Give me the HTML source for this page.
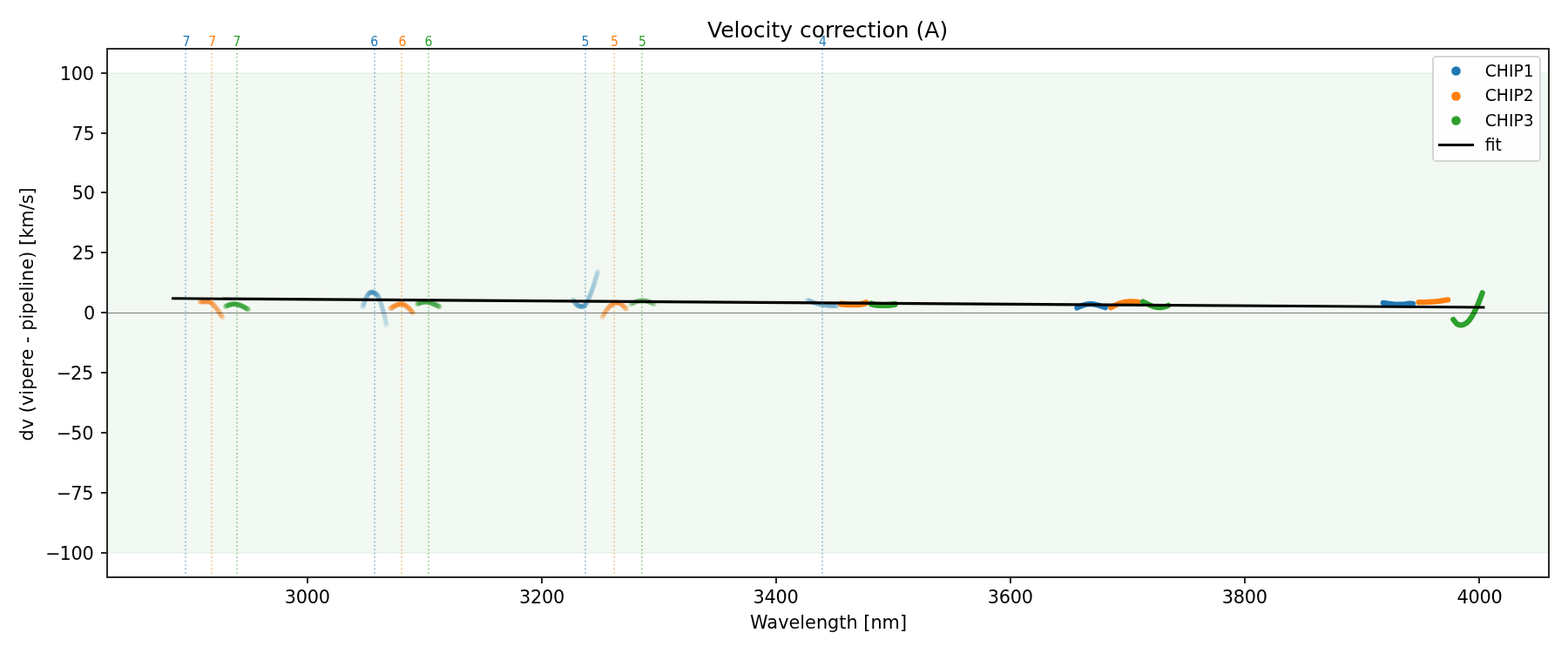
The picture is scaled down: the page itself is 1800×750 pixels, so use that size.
<!DOCTYPE html>
<html lang="en">
<head>
<meta charset="utf-8">
<title>Velocity correction (A)</title>
<style>
html,body{margin:0;padding:0;background:#fff;}
body{width:1800px;height:750px;overflow:hidden;}
svg{display:block;}
svg text{font-family:"DejaVu Sans","Liberation Sans",sans-serif;}
</style>
</head>
<body>
<svg width="1800" height="750" viewBox="0 0 1800 750">
<rect x="0" y="0" width="1800" height="750" fill="#ffffff"/>
<rect x="123" y="83" width="1655" height="553" fill="#f2f8f2"/>
<rect x="123" y="84" width="1655" height="1" fill="#e5f1e5"/>
<rect x="123" y="634" width="1655" height="1" fill="#e5f1e5"/>
<rect x="123" y="82" width="1655" height="1" fill="#fefefe"/>
<rect x="123" y="636" width="1655" height="1" fill="#fefefe"/>
<g fill="#ff7f0e" fill-opacity="0.075">
<circle cx="229.2" cy="346.4" r="3.0"/><circle cx="229.5" cy="346.4" r="3.0"/><circle cx="229.8" cy="346.4" r="3.0"/><circle cx="230.1" cy="346.4" r="3.0"/><circle cx="230.4" cy="346.5" r="3.0"/><circle cx="230.7" cy="346.5" r="3.0"/><circle cx="231.0" cy="346.5" r="3.0"/><circle cx="231.3" cy="346.5" r="3.0"/><circle cx="231.6" cy="346.5" r="3.0"/><circle cx="231.9" cy="346.5" r="3.0"/><circle cx="232.2" cy="346.5" r="3.0"/><circle cx="232.5" cy="346.5" r="3.0"/><circle cx="232.8" cy="346.5" r="3.0"/><circle cx="233.1" cy="346.5" r="3.0"/><circle cx="233.4" cy="346.5" r="3.0"/><circle cx="233.6" cy="346.5" r="3.0"/><circle cx="233.9" cy="346.5" r="3.0"/><circle cx="234.2" cy="346.5" r="3.0"/><circle cx="234.5" cy="346.5" r="3.0"/><circle cx="234.8" cy="346.5" r="3.0"/><circle cx="235.1" cy="346.5" r="3.0"/><circle cx="235.4" cy="346.5" r="3.0"/><circle cx="235.7" cy="346.5" r="3.0"/><circle cx="236.0" cy="346.5" r="3.0"/><circle cx="236.3" cy="346.5" r="3.0"/><circle cx="236.6" cy="346.5" r="3.0"/><circle cx="236.9" cy="346.5" r="3.0"/><circle cx="237.2" cy="346.4" r="3.0"/><circle cx="237.5" cy="346.4" r="3.0"/><circle cx="237.8" cy="346.4" r="3.0"/><circle cx="238.1" cy="346.4" r="3.0"/><circle cx="238.4" cy="346.4" r="3.0"/><circle cx="238.7" cy="346.4" r="3.0"/><circle cx="239.0" cy="346.4" r="3.0"/><circle cx="239.3" cy="346.5" r="3.0"/><circle cx="239.6" cy="346.5" r="3.0"/><circle cx="239.9" cy="346.6" r="3.0"/><circle cx="240.2" cy="346.6" r="3.0"/><circle cx="240.5" cy="346.7" r="3.0"/><circle cx="240.8" cy="346.8" r="3.0"/><circle cx="241.1" cy="346.9" r="3.0"/><circle cx="241.4" cy="347.1" r="3.0"/><circle cx="241.7" cy="347.2" r="3.0"/><circle cx="242.0" cy="347.4" r="3.0"/><circle cx="242.3" cy="347.6" r="3.0"/><circle cx="242.5" cy="347.8" r="3.0"/><circle cx="242.8" cy="348.0" r="3.0"/><circle cx="243.1" cy="348.3" r="3.0"/><circle cx="243.4" cy="348.5" r="3.0"/><circle cx="243.7" cy="348.8" r="3.0"/><circle cx="244.0" cy="349.1" r="3.0"/><circle cx="244.3" cy="349.4" r="3.0"/><circle cx="244.6" cy="349.7" r="3.0"/><circle cx="244.9" cy="350.0" r="3.0"/><circle cx="245.2" cy="350.3" r="3.0"/><circle cx="245.5" cy="350.6" r="3.0"/><circle cx="245.8" cy="351.0" r="3.0"/><circle cx="246.1" cy="351.3" r="3.0"/><circle cx="246.4" cy="351.7" r="3.0"/><circle cx="246.7" cy="352.0" r="3.0"/><circle cx="247.0" cy="352.4" r="3.0"/><circle cx="247.3" cy="352.8" r="3.0"/><circle cx="247.6" cy="353.2" r="3.0"/><circle cx="247.9" cy="353.6" r="3.0"/><circle cx="248.2" cy="354.0" r="3.0"/><circle cx="248.5" cy="354.3" r="3.0"/><circle cx="248.8" cy="354.7" r="3.0"/><circle cx="249.1" cy="355.2" r="3.0"/><circle cx="249.4" cy="355.6" r="3.0"/><circle cx="249.7" cy="356.0" r="3.0"/><circle cx="250.0" cy="356.4" r="3.0"/><circle cx="250.3" cy="356.8" r="3.0"/><circle cx="250.6" cy="357.2" r="3.0"/><circle cx="250.9" cy="357.7" r="3.0"/><circle cx="251.2" cy="358.1" r="3.0"/><circle cx="251.4" cy="358.5" r="3.0"/><circle cx="251.7" cy="359.0" r="3.0"/><circle cx="252.0" cy="359.4" r="3.0"/><circle cx="252.3" cy="359.9" r="3.0"/><circle cx="252.6" cy="360.3" r="3.0"/><circle cx="252.9" cy="360.7" r="3.0"/><circle cx="253.2" cy="361.2" r="3.0"/><circle cx="253.5" cy="361.6" r="3.0"/><circle cx="253.8" cy="362.1" r="3.0"/><circle cx="254.1" cy="362.5" r="3.0"/><circle cx="254.4" cy="363.0" r="3.0"/><circle cx="254.7" cy="363.4" r="3.0"/><circle cx="255.0" cy="363.9" r="3.0"/><circle cx="255.3" cy="364.3" r="3.0"/><circle cx="255.6" cy="364.8" r="3.0"/>
</g>
<g fill="#2ca02c" fill-opacity="0.1">
<circle cx="258.8" cy="352.0" r="3.0"/><circle cx="259.1" cy="351.9" r="3.0"/><circle cx="259.4" cy="351.7" r="3.0"/><circle cx="259.7" cy="351.6" r="3.0"/><circle cx="260.0" cy="351.5" r="3.0"/><circle cx="260.3" cy="351.3" r="3.0"/><circle cx="260.6" cy="351.2" r="3.0"/><circle cx="260.9" cy="351.1" r="3.0"/><circle cx="261.2" cy="350.9" r="3.0"/><circle cx="261.5" cy="350.8" r="3.0"/><circle cx="261.8" cy="350.7" r="3.0"/><circle cx="262.1" cy="350.6" r="3.0"/><circle cx="262.4" cy="350.5" r="3.0"/><circle cx="262.7" cy="350.4" r="3.0"/><circle cx="263.0" cy="350.2" r="3.0"/><circle cx="263.2" cy="350.1" r="3.0"/><circle cx="263.5" cy="350.0" r="3.0"/><circle cx="263.8" cy="349.9" r="3.0"/><circle cx="264.1" cy="349.9" r="3.0"/><circle cx="264.4" cy="349.8" r="3.0"/><circle cx="264.7" cy="349.7" r="3.0"/><circle cx="265.0" cy="349.6" r="3.0"/><circle cx="265.3" cy="349.5" r="3.0"/><circle cx="265.6" cy="349.5" r="3.0"/><circle cx="265.9" cy="349.4" r="3.0"/><circle cx="266.2" cy="349.4" r="3.0"/><circle cx="266.5" cy="349.3" r="3.0"/><circle cx="266.8" cy="349.3" r="3.0"/><circle cx="267.1" cy="349.2" r="3.0"/><circle cx="267.4" cy="349.2" r="3.0"/><circle cx="267.7" cy="349.2" r="3.0"/><circle cx="268.0" cy="349.2" r="3.0"/><circle cx="268.3" cy="349.2" r="3.0"/><circle cx="268.6" cy="349.2" r="3.0"/><circle cx="268.9" cy="349.2" r="3.0"/><circle cx="269.2" cy="349.2" r="3.0"/><circle cx="269.5" cy="349.2" r="3.0"/><circle cx="269.8" cy="349.2" r="3.0"/><circle cx="270.1" cy="349.2" r="3.0"/><circle cx="270.4" cy="349.2" r="3.0"/><circle cx="270.7" cy="349.3" r="3.0"/><circle cx="271.0" cy="349.3" r="3.0"/><circle cx="271.3" cy="349.4" r="3.0"/><circle cx="271.6" cy="349.4" r="3.0"/><circle cx="271.9" cy="349.5" r="3.0"/><circle cx="272.1" cy="349.5" r="3.0"/><circle cx="272.4" cy="349.6" r="3.0"/><circle cx="272.7" cy="349.7" r="3.0"/><circle cx="273.0" cy="349.8" r="3.0"/><circle cx="273.3" cy="349.8" r="3.0"/><circle cx="273.6" cy="349.9" r="3.0"/><circle cx="273.9" cy="350.0" r="3.0"/><circle cx="274.2" cy="350.1" r="3.0"/><circle cx="274.5" cy="350.2" r="3.0"/><circle cx="274.8" cy="350.3" r="3.0"/><circle cx="275.1" cy="350.4" r="3.0"/><circle cx="275.4" cy="350.5" r="3.0"/><circle cx="275.7" cy="350.7" r="3.0"/><circle cx="276.0" cy="350.8" r="3.0"/><circle cx="276.3" cy="350.9" r="3.0"/><circle cx="276.6" cy="351.0" r="3.0"/><circle cx="276.9" cy="351.2" r="3.0"/><circle cx="277.2" cy="351.3" r="3.0"/><circle cx="277.5" cy="351.4" r="3.0"/><circle cx="277.8" cy="351.6" r="3.0"/><circle cx="278.1" cy="351.7" r="3.0"/><circle cx="278.4" cy="351.8" r="3.0"/><circle cx="278.7" cy="352.0" r="3.0"/><circle cx="279.0" cy="352.1" r="3.0"/><circle cx="279.3" cy="352.3" r="3.0"/><circle cx="279.6" cy="352.4" r="3.0"/><circle cx="279.9" cy="352.6" r="3.0"/><circle cx="280.2" cy="352.8" r="3.0"/><circle cx="280.5" cy="352.9" r="3.0"/><circle cx="280.8" cy="353.1" r="3.0"/><circle cx="281.0" cy="353.2" r="3.0"/><circle cx="281.3" cy="353.4" r="3.0"/><circle cx="281.6" cy="353.6" r="3.0"/><circle cx="281.9" cy="353.7" r="3.0"/><circle cx="282.2" cy="353.9" r="3.0"/><circle cx="282.5" cy="354.1" r="3.0"/><circle cx="282.8" cy="354.2" r="3.0"/><circle cx="283.1" cy="354.4" r="3.0"/><circle cx="283.4" cy="354.6" r="3.0"/><circle cx="283.7" cy="354.7" r="3.0"/><circle cx="284.0" cy="354.9" r="3.0"/><circle cx="284.3" cy="355.1" r="3.0"/><circle cx="284.6" cy="355.3" r="3.0"/><circle cx="284.9" cy="355.4" r="3.0"/><circle cx="285.2" cy="355.6" r="3.0"/>
</g>
<g fill="#1f77b4" fill-opacity="0.075">
<circle cx="416.4" cy="352.8" r="3.0"/><circle cx="416.7" cy="351.9" r="3.0"/><circle cx="417.0" cy="351.0" r="3.0"/><circle cx="417.3" cy="350.1" r="3.0"/><circle cx="417.6" cy="349.2" r="3.0"/><circle cx="417.9" cy="348.3" r="3.0"/><circle cx="418.2" cy="347.4" r="3.0"/><circle cx="418.5" cy="346.6" r="3.0"/><circle cx="418.8" cy="345.7" r="3.0"/><circle cx="419.2" cy="344.9" r="3.0"/><circle cx="419.5" cy="344.2" r="3.0"/><circle cx="419.8" cy="343.4" r="3.0"/><circle cx="420.1" cy="342.7" r="3.0"/><circle cx="420.4" cy="342.0" r="3.0"/><circle cx="420.7" cy="341.4" r="3.0"/><circle cx="421.0" cy="340.8" r="3.0"/><circle cx="421.3" cy="340.2" r="3.0"/><circle cx="421.6" cy="339.7" r="3.0"/><circle cx="421.9" cy="339.1" r="3.0"/><circle cx="422.2" cy="338.7" r="3.0"/><circle cx="422.5" cy="338.2" r="3.0"/><circle cx="422.8" cy="337.9" r="3.0"/><circle cx="423.1" cy="337.5" r="3.0"/><circle cx="423.4" cy="337.2" r="3.0"/><circle cx="423.7" cy="336.9" r="3.0"/><circle cx="424.0" cy="336.6" r="3.0"/><circle cx="424.3" cy="336.4" r="3.0"/><circle cx="424.7" cy="336.2" r="3.0"/><circle cx="425.0" cy="336.0" r="3.0"/><circle cx="425.3" cy="335.9" r="3.0"/><circle cx="425.6" cy="335.8" r="3.0"/><circle cx="425.9" cy="335.7" r="3.0"/><circle cx="426.2" cy="335.6" r="3.0"/><circle cx="426.5" cy="335.6" r="3.0"/><circle cx="426.8" cy="335.6" r="3.0"/><circle cx="427.1" cy="335.6" r="3.0"/><circle cx="427.4" cy="335.6" r="3.0"/><circle cx="427.7" cy="335.7" r="3.0"/><circle cx="428.0" cy="335.7" r="3.0"/><circle cx="428.3" cy="335.8" r="3.0"/><circle cx="428.6" cy="335.9" r="3.0"/><circle cx="428.9" cy="336.0" r="3.0"/><circle cx="429.2" cy="336.1" r="3.0"/><circle cx="429.5" cy="336.3" r="3.0"/><circle cx="429.8" cy="336.4" r="3.0"/><circle cx="430.2" cy="336.6" r="3.0"/><circle cx="430.5" cy="336.8" r="3.0"/><circle cx="430.8" cy="337.0" r="3.0"/><circle cx="431.1" cy="337.2" r="3.0"/><circle cx="431.4" cy="337.4" r="3.0"/><circle cx="431.7" cy="337.6" r="3.0"/><circle cx="432.0" cy="337.9" r="3.0"/><circle cx="432.3" cy="338.1" r="3.0"/><circle cx="432.6" cy="338.4" r="3.0"/><circle cx="432.9" cy="338.7" r="3.0"/><circle cx="433.2" cy="339.1" r="3.0"/><circle cx="433.5" cy="339.4" r="3.0"/><circle cx="433.8" cy="339.8" r="3.0"/><circle cx="434.1" cy="340.3" r="3.0"/><circle cx="434.4" cy="340.8" r="3.0"/><circle cx="434.7" cy="341.4" r="3.0"/><circle cx="435.0" cy="342.0" r="3.0"/><circle cx="435.3" cy="342.8" r="3.0"/><circle cx="435.7" cy="343.5" r="3.0"/><circle cx="436.0" cy="344.4" r="3.0"/><circle cx="436.3" cy="345.2" r="3.0"/><circle cx="436.6" cy="346.1" r="3.0"/><circle cx="436.9" cy="347.1" r="3.0"/><circle cx="437.2" cy="348.1" r="3.0"/><circle cx="437.5" cy="349.1" r="3.0"/><circle cx="437.8" cy="350.0" r="3.0"/><circle cx="438.1" cy="351.0" r="3.0"/><circle cx="438.4" cy="352.0" r="3.0"/><circle cx="438.7" cy="353.0" r="3.0"/><circle cx="439.0" cy="353.9" r="3.0"/><circle cx="439.3" cy="354.9" r="3.0"/><circle cx="439.6" cy="355.9" r="3.0"/><circle cx="439.9" cy="356.8" r="3.0"/><circle cx="440.2" cy="357.9" r="3.0"/><circle cx="440.5" cy="359.0" r="3.0"/><circle cx="440.8" cy="360.1" r="3.0"/><circle cx="441.2" cy="361.3" r="3.0"/><circle cx="441.5" cy="362.6" r="3.0"/><circle cx="441.8" cy="364.0" r="3.0"/><circle cx="442.1" cy="365.4" r="3.0"/><circle cx="442.4" cy="367.0" r="3.0"/><circle cx="442.7" cy="368.6" r="3.0"/><circle cx="443.0" cy="370.2" r="3.0"/><circle cx="443.3" cy="371.9" r="3.0"/><circle cx="443.6" cy="373.6" r="3.0"/>
</g>
<g fill="#ff7f0e" fill-opacity="0.09">
<circle cx="448.0" cy="354.4" r="3.0"/><circle cx="448.3" cy="354.2" r="3.0"/><circle cx="448.6" cy="354.0" r="3.0"/><circle cx="448.9" cy="353.9" r="3.0"/><circle cx="449.2" cy="353.7" r="3.0"/><circle cx="449.5" cy="353.5" r="3.0"/><circle cx="449.8" cy="353.3" r="3.0"/><circle cx="450.1" cy="353.2" r="3.0"/><circle cx="450.4" cy="353.0" r="3.0"/><circle cx="450.7" cy="352.8" r="3.0"/><circle cx="451.0" cy="352.6" r="3.0"/><circle cx="451.3" cy="352.5" r="3.0"/><circle cx="451.6" cy="352.3" r="3.0"/><circle cx="451.9" cy="352.1" r="3.0"/><circle cx="452.2" cy="352.0" r="3.0"/><circle cx="452.4" cy="351.8" r="3.0"/><circle cx="452.7" cy="351.6" r="3.0"/><circle cx="453.0" cy="351.5" r="3.0"/><circle cx="453.3" cy="351.3" r="3.0"/><circle cx="453.6" cy="351.2" r="3.0"/><circle cx="453.9" cy="351.0" r="3.0"/><circle cx="454.2" cy="350.9" r="3.0"/><circle cx="454.5" cy="350.7" r="3.0"/><circle cx="454.8" cy="350.6" r="3.0"/><circle cx="455.1" cy="350.5" r="3.0"/><circle cx="455.4" cy="350.3" r="3.0"/><circle cx="455.7" cy="350.2" r="3.0"/><circle cx="456.0" cy="350.1" r="3.0"/><circle cx="456.3" cy="350.0" r="3.0"/><circle cx="456.6" cy="349.9" r="3.0"/><circle cx="456.9" cy="349.8" r="3.0"/><circle cx="457.2" cy="349.7" r="3.0"/><circle cx="457.5" cy="349.6" r="3.0"/><circle cx="457.8" cy="349.5" r="3.0"/><circle cx="458.1" cy="349.4" r="3.0"/><circle cx="458.4" cy="349.4" r="3.0"/><circle cx="458.7" cy="349.3" r="3.0"/><circle cx="459.0" cy="349.3" r="3.0"/><circle cx="459.3" cy="349.2" r="3.0"/><circle cx="459.6" cy="349.2" r="3.0"/><circle cx="459.9" cy="349.2" r="3.0"/><circle cx="460.2" cy="349.2" r="3.0"/><circle cx="460.5" cy="349.2" r="3.0"/><circle cx="460.8" cy="349.2" r="3.0"/><circle cx="461.1" cy="349.2" r="3.0"/><circle cx="461.3" cy="349.3" r="3.0"/><circle cx="461.6" cy="349.3" r="3.0"/><circle cx="461.9" cy="349.4" r="3.0"/><circle cx="462.2" cy="349.4" r="3.0"/><circle cx="462.5" cy="349.5" r="3.0"/><circle cx="462.8" cy="349.6" r="3.0"/><circle cx="463.1" cy="349.7" r="3.0"/><circle cx="463.4" cy="349.8" r="3.0"/><circle cx="463.7" cy="350.0" r="3.0"/><circle cx="464.0" cy="350.1" r="3.0"/><circle cx="464.3" cy="350.2" r="3.0"/><circle cx="464.6" cy="350.4" r="3.0"/><circle cx="464.9" cy="350.6" r="3.0"/><circle cx="465.2" cy="350.7" r="3.0"/><circle cx="465.5" cy="350.9" r="3.0"/><circle cx="465.8" cy="351.1" r="3.0"/><circle cx="466.1" cy="351.3" r="3.0"/><circle cx="466.4" cy="351.5" r="3.0"/><circle cx="466.7" cy="351.7" r="3.0"/><circle cx="467.0" cy="352.0" r="3.0"/><circle cx="467.3" cy="352.2" r="3.0"/><circle cx="467.6" cy="352.4" r="3.0"/><circle cx="467.9" cy="352.7" r="3.0"/><circle cx="468.2" cy="353.0" r="3.0"/><circle cx="468.5" cy="353.2" r="3.0"/><circle cx="468.8" cy="353.5" r="3.0"/><circle cx="469.1" cy="353.8" r="3.0"/><circle cx="469.4" cy="354.1" r="3.0"/><circle cx="469.7" cy="354.4" r="3.0"/><circle cx="470.0" cy="354.7" r="3.0"/><circle cx="470.2" cy="355.0" r="3.0"/><circle cx="470.5" cy="355.3" r="3.0"/><circle cx="470.8" cy="355.6" r="3.0"/><circle cx="471.1" cy="355.9" r="3.0"/><circle cx="471.4" cy="356.2" r="3.0"/><circle cx="471.7" cy="356.6" r="3.0"/><circle cx="472.0" cy="356.9" r="3.0"/><circle cx="472.3" cy="357.2" r="3.0"/><circle cx="472.6" cy="357.6" r="3.0"/><circle cx="472.9" cy="357.9" r="3.0"/><circle cx="473.2" cy="358.2" r="3.0"/><circle cx="473.5" cy="358.6" r="3.0"/><circle cx="473.8" cy="358.9" r="3.0"/><circle cx="474.1" cy="359.3" r="3.0"/><circle cx="474.4" cy="359.6" r="3.0"/>
</g>
<g fill="#2ca02c" fill-opacity="0.09">
<circle cx="478.8" cy="349.2" r="3.0"/><circle cx="479.1" cy="349.1" r="3.0"/><circle cx="479.4" cy="349.0" r="3.0"/><circle cx="479.7" cy="348.9" r="3.0"/><circle cx="480.0" cy="348.8" r="3.0"/><circle cx="480.3" cy="348.7" r="3.0"/><circle cx="480.6" cy="348.6" r="3.0"/><circle cx="480.8" cy="348.4" r="3.0"/><circle cx="481.1" cy="348.3" r="3.0"/><circle cx="481.4" cy="348.2" r="3.0"/><circle cx="481.7" cy="348.1" r="3.0"/><circle cx="482.0" cy="348.0" r="3.0"/><circle cx="482.3" cy="347.9" r="3.0"/><circle cx="482.6" cy="347.9" r="3.0"/><circle cx="482.9" cy="347.8" r="3.0"/><circle cx="483.2" cy="347.7" r="3.0"/><circle cx="483.5" cy="347.6" r="3.0"/><circle cx="483.8" cy="347.5" r="3.0"/><circle cx="484.1" cy="347.4" r="3.0"/><circle cx="484.4" cy="347.4" r="3.0"/><circle cx="484.6" cy="347.3" r="3.0"/><circle cx="484.9" cy="347.2" r="3.0"/><circle cx="485.2" cy="347.2" r="3.0"/><circle cx="485.5" cy="347.1" r="3.0"/><circle cx="485.8" cy="347.0" r="3.0"/><circle cx="486.1" cy="347.0" r="3.0"/><circle cx="486.4" cy="346.9" r="3.0"/><circle cx="486.7" cy="346.9" r="3.0"/><circle cx="487.0" cy="346.9" r="3.0"/><circle cx="487.3" cy="346.8" r="3.0"/><circle cx="487.6" cy="346.8" r="3.0"/><circle cx="487.9" cy="346.8" r="3.0"/><circle cx="488.1" cy="346.8" r="3.0"/><circle cx="488.4" cy="346.8" r="3.0"/><circle cx="488.7" cy="346.8" r="3.0"/><circle cx="489.0" cy="346.8" r="3.0"/><circle cx="489.3" cy="346.8" r="3.0"/><circle cx="489.6" cy="346.8" r="3.0"/><circle cx="489.9" cy="346.9" r="3.0"/><circle cx="490.2" cy="346.9" r="3.0"/><circle cx="490.5" cy="346.9" r="3.0"/><circle cx="490.8" cy="347.0" r="3.0"/><circle cx="491.1" cy="347.0" r="3.0"/><circle cx="491.4" cy="347.1" r="3.0"/><circle cx="491.7" cy="347.1" r="3.0"/><circle cx="491.9" cy="347.2" r="3.0"/><circle cx="492.2" cy="347.2" r="3.0"/><circle cx="492.5" cy="347.3" r="3.0"/><circle cx="492.8" cy="347.4" r="3.0"/><circle cx="493.1" cy="347.5" r="3.0"/><circle cx="493.4" cy="347.5" r="3.0"/><circle cx="493.7" cy="347.6" r="3.0"/><circle cx="494.0" cy="347.7" r="3.0"/><circle cx="494.3" cy="347.8" r="3.0"/><circle cx="494.6" cy="347.9" r="3.0"/><circle cx="494.9" cy="348.0" r="3.0"/><circle cx="495.2" cy="348.1" r="3.0"/><circle cx="495.5" cy="348.2" r="3.0"/><circle cx="495.7" cy="348.3" r="3.0"/><circle cx="496.0" cy="348.4" r="3.0"/><circle cx="496.3" cy="348.5" r="3.0"/><circle cx="496.6" cy="348.6" r="3.0"/><circle cx="496.9" cy="348.8" r="3.0"/><circle cx="497.2" cy="348.9" r="3.0"/><circle cx="497.5" cy="349.0" r="3.0"/><circle cx="497.8" cy="349.1" r="3.0"/><circle cx="498.1" cy="349.2" r="3.0"/><circle cx="498.4" cy="349.4" r="3.0"/><circle cx="498.7" cy="349.5" r="3.0"/><circle cx="499.0" cy="349.6" r="3.0"/><circle cx="499.2" cy="349.7" r="3.0"/><circle cx="499.5" cy="349.9" r="3.0"/><circle cx="499.8" cy="350.0" r="3.0"/><circle cx="500.1" cy="350.1" r="3.0"/><circle cx="500.4" cy="350.3" r="3.0"/><circle cx="500.7" cy="350.4" r="3.0"/><circle cx="501.0" cy="350.5" r="3.0"/><circle cx="501.3" cy="350.7" r="3.0"/><circle cx="501.6" cy="350.8" r="3.0"/><circle cx="501.9" cy="351.0" r="3.0"/><circle cx="502.2" cy="351.1" r="3.0"/><circle cx="502.5" cy="351.2" r="3.0"/><circle cx="502.8" cy="351.4" r="3.0"/><circle cx="503.0" cy="351.5" r="3.0"/><circle cx="503.3" cy="351.7" r="3.0"/><circle cx="503.6" cy="351.8" r="3.0"/><circle cx="503.9" cy="352.0" r="3.0"/><circle cx="504.2" cy="352.1" r="3.0"/><circle cx="504.5" cy="352.3" r="3.0"/><circle cx="504.8" cy="352.4" r="3.0"/>
</g>
<g fill="#1f77b4" fill-opacity="0.075">
<circle cx="657.7" cy="343.9" r="3.0"/><circle cx="658.0" cy="344.5" r="3.0"/><circle cx="658.3" cy="345.0" r="3.0"/><circle cx="658.7" cy="345.6" r="3.0"/><circle cx="659.0" cy="346.1" r="3.0"/><circle cx="659.3" cy="346.6" r="3.0"/><circle cx="659.6" cy="347.1" r="3.0"/><circle cx="659.9" cy="347.6" r="3.0"/><circle cx="660.3" cy="348.1" r="3.0"/><circle cx="660.6" cy="348.5" r="3.0"/><circle cx="660.9" cy="348.9" r="3.0"/><circle cx="661.2" cy="349.3" r="3.0"/><circle cx="661.5" cy="349.6" r="3.0"/><circle cx="661.9" cy="349.9" r="3.0"/><circle cx="662.2" cy="350.2" r="3.0"/><circle cx="662.5" cy="350.4" r="3.0"/><circle cx="662.8" cy="350.6" r="3.0"/><circle cx="663.1" cy="350.8" r="3.0"/><circle cx="663.5" cy="351.0" r="3.0"/><circle cx="663.8" cy="351.1" r="3.0"/><circle cx="664.1" cy="351.3" r="3.0"/><circle cx="664.4" cy="351.4" r="3.0"/><circle cx="664.7" cy="351.5" r="3.0"/><circle cx="665.1" cy="351.6" r="3.0"/><circle cx="665.4" cy="351.7" r="3.0"/><circle cx="665.7" cy="351.8" r="3.0"/><circle cx="666.0" cy="351.9" r="3.0"/><circle cx="666.3" cy="352.0" r="3.0"/><circle cx="666.7" cy="352.0" r="3.0"/><circle cx="667.0" cy="352.1" r="3.0"/><circle cx="667.3" cy="352.1" r="3.0"/><circle cx="667.6" cy="352.2" r="3.0"/><circle cx="667.9" cy="352.2" r="3.0"/><circle cx="668.3" cy="352.2" r="3.0"/><circle cx="668.6" cy="352.2" r="3.0"/><circle cx="668.9" cy="352.1" r="3.0"/><circle cx="669.2" cy="352.0" r="3.0"/><circle cx="669.5" cy="351.9" r="3.0"/><circle cx="669.9" cy="351.8" r="3.0"/><circle cx="670.2" cy="351.7" r="3.0"/><circle cx="670.5" cy="351.5" r="3.0"/><circle cx="670.8" cy="351.2" r="3.0"/><circle cx="671.1" cy="351.0" r="3.0"/><circle cx="671.5" cy="350.6" r="3.0"/><circle cx="671.8" cy="350.3" r="3.0"/><circle cx="672.1" cy="349.9" r="3.0"/><circle cx="672.4" cy="349.5" r="3.0"/><circle cx="672.8" cy="349.0" r="3.0"/><circle cx="673.1" cy="348.5" r="3.0"/><circle cx="673.4" cy="347.9" r="3.0"/><circle cx="673.7" cy="347.3" r="3.0"/><circle cx="674.0" cy="346.7" r="3.0"/><circle cx="674.4" cy="346.1" r="3.0"/><circle cx="674.7" cy="345.4" r="3.0"/><circle cx="675.0" cy="344.7" r="3.0"/><circle cx="675.3" cy="344.0" r="3.0"/><circle cx="675.6" cy="343.3" r="3.0"/><circle cx="676.0" cy="342.5" r="3.0"/><circle cx="676.3" cy="341.7" r="3.0"/><circle cx="676.6" cy="341.0" r="3.0"/><circle cx="676.9" cy="340.2" r="3.0"/><circle cx="677.2" cy="339.4" r="3.0"/><circle cx="677.6" cy="338.6" r="3.0"/><circle cx="677.9" cy="337.7" r="3.0"/><circle cx="678.2" cy="336.9" r="3.0"/><circle cx="678.5" cy="336.1" r="3.0"/><circle cx="678.8" cy="335.2" r="3.0"/><circle cx="679.2" cy="334.4" r="3.0"/><circle cx="679.5" cy="333.5" r="3.0"/><circle cx="679.8" cy="332.6" r="3.0"/><circle cx="680.1" cy="331.7" r="3.0"/><circle cx="680.4" cy="330.8" r="3.0"/><circle cx="680.8" cy="329.9" r="3.0"/><circle cx="681.1" cy="328.9" r="3.0"/><circle cx="681.4" cy="328.0" r="3.0"/><circle cx="681.7" cy="327.0" r="3.0"/><circle cx="682.0" cy="326.0" r="3.0"/><circle cx="682.4" cy="325.0" r="3.0"/><circle cx="682.7" cy="323.9" r="3.0"/><circle cx="683.0" cy="322.9" r="3.0"/><circle cx="683.3" cy="321.8" r="3.0"/><circle cx="683.6" cy="320.7" r="3.0"/><circle cx="684.0" cy="319.6" r="3.0"/><circle cx="684.3" cy="318.5" r="3.0"/><circle cx="684.6" cy="317.4" r="3.0"/><circle cx="684.9" cy="316.3" r="3.0"/><circle cx="685.2" cy="315.1" r="3.0"/><circle cx="685.6" cy="314.0" r="3.0"/><circle cx="685.9" cy="312.8" r="3.0"/><circle cx="686.2" cy="311.7" r="3.0"/>
</g>
<g fill="#ff7f0e" fill-opacity="0.075">
<circle cx="691.3" cy="364.4" r="3.0"/><circle cx="691.6" cy="363.9" r="3.0"/><circle cx="691.9" cy="363.3" r="3.0"/><circle cx="692.2" cy="362.8" r="3.0"/><circle cx="692.6" cy="362.2" r="3.0"/><circle cx="692.9" cy="361.7" r="3.0"/><circle cx="693.2" cy="361.2" r="3.0"/><circle cx="693.5" cy="360.6" r="3.0"/><circle cx="693.8" cy="360.1" r="3.0"/><circle cx="694.1" cy="359.6" r="3.0"/><circle cx="694.4" cy="359.1" r="3.0"/><circle cx="694.8" cy="358.6" r="3.0"/><circle cx="695.1" cy="358.1" r="3.0"/><circle cx="695.4" cy="357.6" r="3.0"/><circle cx="695.7" cy="357.1" r="3.0"/><circle cx="696.0" cy="356.6" r="3.0"/><circle cx="696.3" cy="356.2" r="3.0"/><circle cx="696.6" cy="355.7" r="3.0"/><circle cx="697.0" cy="355.3" r="3.0"/><circle cx="697.3" cy="354.9" r="3.0"/><circle cx="697.6" cy="354.5" r="3.0"/><circle cx="697.9" cy="354.1" r="3.0"/><circle cx="698.2" cy="353.7" r="3.0"/><circle cx="698.5" cy="353.4" r="3.0"/><circle cx="698.9" cy="353.0" r="3.0"/><circle cx="699.2" cy="352.7" r="3.0"/><circle cx="699.5" cy="352.3" r="3.0"/><circle cx="699.8" cy="352.0" r="3.0"/><circle cx="700.1" cy="351.7" r="3.0"/><circle cx="700.4" cy="351.5" r="3.0"/><circle cx="700.7" cy="351.2" r="3.0"/><circle cx="701.1" cy="350.9" r="3.0"/><circle cx="701.4" cy="350.7" r="3.0"/><circle cx="701.7" cy="350.4" r="3.0"/><circle cx="702.0" cy="350.2" r="3.0"/><circle cx="702.3" cy="350.0" r="3.0"/><circle cx="702.6" cy="349.7" r="3.0"/><circle cx="702.9" cy="349.5" r="3.0"/><circle cx="703.3" cy="349.3" r="3.0"/><circle cx="703.6" cy="349.1" r="3.0"/><circle cx="703.9" cy="349.0" r="3.0"/><circle cx="704.2" cy="348.8" r="3.0"/><circle cx="704.5" cy="348.6" r="3.0"/><circle cx="704.8" cy="348.5" r="3.0"/><circle cx="705.1" cy="348.3" r="3.0"/><circle cx="705.5" cy="348.2" r="3.0"/><circle cx="705.8" cy="348.1" r="3.0"/><circle cx="706.1" cy="348.0" r="3.0"/><circle cx="706.4" cy="347.9" r="3.0"/><circle cx="706.7" cy="347.8" r="3.0"/><circle cx="707.0" cy="347.7" r="3.0"/><circle cx="707.3" cy="347.7" r="3.0"/><circle cx="707.7" cy="347.6" r="3.0"/><circle cx="708.0" cy="347.6" r="3.0"/><circle cx="708.3" cy="347.6" r="3.0"/><circle cx="708.6" cy="347.6" r="3.0"/><circle cx="708.9" cy="347.6" r="3.0"/><circle cx="709.2" cy="347.7" r="3.0"/><circle cx="709.5" cy="347.7" r="3.0"/><circle cx="709.9" cy="347.8" r="3.0"/><circle cx="710.2" cy="347.9" r="3.0"/><circle cx="710.5" cy="348.0" r="3.0"/><circle cx="710.8" cy="348.1" r="3.0"/><circle cx="711.1" cy="348.2" r="3.0"/><circle cx="711.4" cy="348.3" r="3.0"/><circle cx="711.7" cy="348.5" r="3.0"/><circle cx="712.1" cy="348.7" r="3.0"/><circle cx="712.4" cy="348.9" r="3.0"/><circle cx="712.7" cy="349.0" r="3.0"/><circle cx="713.0" cy="349.3" r="3.0"/><circle cx="713.3" cy="349.5" r="3.0"/><circle cx="713.6" cy="349.7" r="3.0"/><circle cx="714.0" cy="350.0" r="3.0"/><circle cx="714.3" cy="350.2" r="3.0"/><circle cx="714.6" cy="350.5" r="3.0"/><circle cx="714.9" cy="350.8" r="3.0"/><circle cx="715.2" cy="351.1" r="3.0"/><circle cx="715.5" cy="351.4" r="3.0"/><circle cx="715.8" cy="351.7" r="3.0"/><circle cx="716.2" cy="352.0" r="3.0"/><circle cx="716.5" cy="352.3" r="3.0"/><circle cx="716.8" cy="352.7" r="3.0"/><circle cx="717.1" cy="353.0" r="3.0"/><circle cx="717.4" cy="353.4" r="3.0"/><circle cx="717.7" cy="353.7" r="3.0"/><circle cx="718.0" cy="354.1" r="3.0"/><circle cx="718.4" cy="354.4" r="3.0"/><circle cx="718.7" cy="354.8" r="3.0"/><circle cx="719.0" cy="355.1" r="3.0"/><circle cx="719.3" cy="355.5" r="3.0"/>
</g>
<g fill="#2ca02c" fill-opacity="0.06">
<circle cx="724.0" cy="349.5" r="3.0"/><circle cx="724.3" cy="349.3" r="3.0"/><circle cx="724.6" cy="349.1" r="3.0"/><circle cx="724.9" cy="349.0" r="3.0"/><circle cx="725.2" cy="348.8" r="3.0"/><circle cx="725.5" cy="348.6" r="3.0"/><circle cx="725.8" cy="348.4" r="3.0"/><circle cx="726.1" cy="348.3" r="3.0"/><circle cx="726.4" cy="348.1" r="3.0"/><circle cx="726.7" cy="348.0" r="3.0"/><circle cx="727.0" cy="347.8" r="3.0"/><circle cx="727.3" cy="347.7" r="3.0"/><circle cx="727.7" cy="347.5" r="3.0"/><circle cx="728.0" cy="347.4" r="3.0"/><circle cx="728.3" cy="347.3" r="3.0"/><circle cx="728.6" cy="347.1" r="3.0"/><circle cx="728.9" cy="347.0" r="3.0"/><circle cx="729.2" cy="346.9" r="3.0"/><circle cx="729.5" cy="346.8" r="3.0"/><circle cx="729.8" cy="346.7" r="3.0"/><circle cx="730.1" cy="346.6" r="3.0"/><circle cx="730.4" cy="346.5" r="3.0"/><circle cx="730.7" cy="346.4" r="3.0"/><circle cx="731.0" cy="346.3" r="3.0"/><circle cx="731.3" cy="346.2" r="3.0"/><circle cx="731.6" cy="346.1" r="3.0"/><circle cx="731.9" cy="346.0" r="3.0"/><circle cx="732.2" cy="345.9" r="3.0"/><circle cx="732.5" cy="345.9" r="3.0"/><circle cx="732.8" cy="345.8" r="3.0"/><circle cx="733.1" cy="345.7" r="3.0"/><circle cx="733.4" cy="345.7" r="3.0"/><circle cx="733.7" cy="345.6" r="3.0"/><circle cx="734.0" cy="345.6" r="3.0"/><circle cx="734.4" cy="345.5" r="3.0"/><circle cx="734.7" cy="345.5" r="3.0"/><circle cx="735.0" cy="345.4" r="3.0"/><circle cx="735.3" cy="345.4" r="3.0"/><circle cx="735.6" cy="345.4" r="3.0"/><circle cx="735.9" cy="345.4" r="3.0"/><circle cx="736.2" cy="345.3" r="3.0"/><circle cx="736.5" cy="345.3" r="3.0"/><circle cx="736.8" cy="345.3" r="3.0"/><circle cx="737.1" cy="345.3" r="3.0"/><circle cx="737.4" cy="345.3" r="3.0"/><circle cx="737.7" cy="345.3" r="3.0"/><circle cx="738.0" cy="345.3" r="3.0"/><circle cx="738.3" cy="345.3" r="3.0"/><circle cx="738.6" cy="345.3" r="3.0"/><circle cx="738.9" cy="345.3" r="3.0"/><circle cx="739.2" cy="345.4" r="3.0"/><circle cx="739.5" cy="345.4" r="3.0"/><circle cx="739.8" cy="345.4" r="3.0"/><circle cx="740.1" cy="345.4" r="3.0"/><circle cx="740.4" cy="345.5" r="3.0"/><circle cx="740.7" cy="345.5" r="3.0"/><circle cx="741.1" cy="345.6" r="3.0"/><circle cx="741.4" cy="345.6" r="3.0"/><circle cx="741.7" cy="345.7" r="3.0"/><circle cx="742.0" cy="345.7" r="3.0"/><circle cx="742.3" cy="345.8" r="3.0"/><circle cx="742.6" cy="345.9" r="3.0"/><circle cx="742.9" cy="345.9" r="3.0"/><circle cx="743.2" cy="346.0" r="3.0"/><circle cx="743.5" cy="346.1" r="3.0"/><circle cx="743.8" cy="346.2" r="3.0"/><circle cx="744.1" cy="346.3" r="3.0"/><circle cx="744.4" cy="346.4" r="3.0"/><circle cx="744.7" cy="346.5" r="3.0"/><circle cx="745.0" cy="346.6" r="3.0"/><circle cx="745.3" cy="346.7" r="3.0"/><circle cx="745.6" cy="346.8" r="3.0"/><circle cx="745.9" cy="346.9" r="3.0"/><circle cx="746.2" cy="347.0" r="3.0"/><circle cx="746.5" cy="347.1" r="3.0"/><circle cx="746.8" cy="347.3" r="3.0"/><circle cx="747.1" cy="347.4" r="3.0"/><circle cx="747.4" cy="347.5" r="3.0"/><circle cx="747.8" cy="347.7" r="3.0"/><circle cx="748.1" cy="347.8" r="3.0"/><circle cx="748.4" cy="348.0" r="3.0"/><circle cx="748.7" cy="348.1" r="3.0"/><circle cx="749.0" cy="348.3" r="3.0"/><circle cx="749.3" cy="348.4" r="3.0"/><circle cx="749.6" cy="348.6" r="3.0"/><circle cx="749.9" cy="348.8" r="3.0"/><circle cx="750.2" cy="349.0" r="3.0"/><circle cx="750.5" cy="349.1" r="3.0"/><circle cx="750.8" cy="349.3" r="3.0"/><circle cx="751.1" cy="349.5" r="3.0"/>
</g>
<g fill="#1f77b4" fill-opacity="0.055">
<circle cx="926.8" cy="344.8" r="3.0"/><circle cx="927.2" cy="345.0" r="3.0"/><circle cx="927.6" cy="345.1" r="3.0"/><circle cx="928.0" cy="345.3" r="3.0"/><circle cx="928.3" cy="345.4" r="3.0"/><circle cx="928.7" cy="345.6" r="3.0"/><circle cx="929.1" cy="345.7" r="3.0"/><circle cx="929.5" cy="345.9" r="3.0"/><circle cx="929.9" cy="346.0" r="3.0"/><circle cx="930.3" cy="346.2" r="3.0"/><circle cx="930.7" cy="346.3" r="3.0"/><circle cx="931.1" cy="346.5" r="3.0"/><circle cx="931.4" cy="346.6" r="3.0"/><circle cx="931.8" cy="346.7" r="3.0"/><circle cx="932.2" cy="346.9" r="3.0"/><circle cx="932.6" cy="347.0" r="3.0"/><circle cx="933.0" cy="347.1" r="3.0"/><circle cx="933.4" cy="347.3" r="3.0"/><circle cx="933.8" cy="347.4" r="3.0"/><circle cx="934.1" cy="347.5" r="3.0"/><circle cx="934.5" cy="347.6" r="3.0"/><circle cx="934.9" cy="347.8" r="3.0"/><circle cx="935.3" cy="347.9" r="3.0"/><circle cx="935.7" cy="348.0" r="3.0"/><circle cx="936.1" cy="348.1" r="3.0"/><circle cx="936.5" cy="348.2" r="3.0"/><circle cx="936.8" cy="348.3" r="3.0"/><circle cx="937.2" cy="348.4" r="3.0"/><circle cx="937.6" cy="348.5" r="3.0"/><circle cx="938.0" cy="348.6" r="3.0"/><circle cx="938.4" cy="348.7" r="3.0"/><circle cx="938.8" cy="348.8" r="3.0"/><circle cx="939.2" cy="348.9" r="3.0"/><circle cx="939.6" cy="349.0" r="3.0"/><circle cx="939.9" cy="349.1" r="3.0"/><circle cx="940.3" cy="349.2" r="3.0"/><circle cx="940.7" cy="349.3" r="3.0"/><circle cx="941.1" cy="349.4" r="3.0"/><circle cx="941.5" cy="349.5" r="3.0"/><circle cx="941.9" cy="349.6" r="3.0"/><circle cx="942.3" cy="349.7" r="3.0"/><circle cx="942.6" cy="349.7" r="3.0"/><circle cx="943.0" cy="349.8" r="3.0"/><circle cx="943.4" cy="349.9" r="3.0"/><circle cx="943.8" cy="350.0" r="3.0"/><circle cx="944.2" cy="350.0" r="3.0"/><circle cx="944.6" cy="350.1" r="3.0"/><circle cx="945.0" cy="350.2" r="3.0"/><circle cx="945.4" cy="350.2" r="3.0"/><circle cx="945.7" cy="350.3" r="3.0"/><circle cx="946.1" cy="350.4" r="3.0"/><circle cx="946.5" cy="350.4" r="3.0"/><circle cx="946.9" cy="350.5" r="3.0"/><circle cx="947.3" cy="350.5" r="3.0"/><circle cx="947.7" cy="350.6" r="3.0"/><circle cx="948.1" cy="350.6" r="3.0"/><circle cx="948.4" cy="350.7" r="3.0"/><circle cx="948.8" cy="350.7" r="3.0"/><circle cx="949.2" cy="350.8" r="3.0"/><circle cx="949.6" cy="350.8" r="3.0"/><circle cx="950.0" cy="350.9" r="3.0"/><circle cx="950.4" cy="350.9" r="3.0"/><circle cx="950.8" cy="350.9" r="3.0"/><circle cx="951.2" cy="351.0" r="3.0"/><circle cx="951.5" cy="351.0" r="3.0"/><circle cx="951.9" cy="351.0" r="3.0"/><circle cx="952.3" cy="351.1" r="3.0"/><circle cx="952.7" cy="351.1" r="3.0"/><circle cx="953.1" cy="351.1" r="3.0"/><circle cx="953.5" cy="351.2" r="3.0"/><circle cx="953.9" cy="351.2" r="3.0"/><circle cx="954.2" cy="351.2" r="3.0"/><circle cx="954.6" cy="351.2" r="3.0"/><circle cx="955.0" cy="351.2" r="3.0"/><circle cx="955.4" cy="351.2" r="3.0"/><circle cx="955.8" cy="351.3" r="3.0"/><circle cx="956.2" cy="351.3" r="3.0"/><circle cx="956.6" cy="351.3" r="3.0"/><circle cx="956.9" cy="351.3" r="3.0"/><circle cx="957.3" cy="351.3" r="3.0"/><circle cx="957.7" cy="351.3" r="3.0"/><circle cx="958.1" cy="351.3" r="3.0"/><circle cx="958.5" cy="351.3" r="3.0"/><circle cx="958.9" cy="351.3" r="3.0"/><circle cx="959.3" cy="351.3" r="3.0"/><circle cx="959.7" cy="351.3" r="3.0"/><circle cx="960.0" cy="351.2" r="3.0"/><circle cx="960.4" cy="351.2" r="3.0"/><circle cx="960.8" cy="351.2" r="3.0"/><circle cx="961.2" cy="351.2" r="3.0"/>
</g>
<path d="M965.3,349.0 L966.0,349.1 L966.8,349.1 L967.5,349.2 L968.3,349.3 L969.0,349.3 L969.7,349.4 L970.5,349.4 L971.2,349.5 L972.0,349.5 L972.7,349.6 L973.5,349.6 L974.2,349.6 L974.9,349.7 L975.7,349.7 L976.4,349.7 L977.2,349.8 L977.9,349.8 L978.6,349.8 L979.4,349.8 L980.1,349.8 L980.9,349.8 L981.6,349.8 L982.3,349.8 L983.1,349.7 L983.8,349.7 L984.6,349.7 L985.3,349.6 L986.0,349.6 L986.8,349.5 L987.5,349.4 L988.3,349.4 L989.0,349.3 L989.8,349.1 L990.5,348.9 L991.2,348.7 L992.0,348.5 L992.7,348.2 L993.5,348.0 L994.2,347.7" fill="none" stroke="#ff7f0e" stroke-width="7.1" stroke-linecap="round" stroke-linejoin="round"/>
<path d="M1000.3,349.0 L1001.0,349.2 L1001.7,349.4 L1002.4,349.6 L1003.1,349.7 L1003.7,349.9 L1004.4,350.0 L1005.1,350.1 L1005.8,350.2 L1006.5,350.2 L1007.2,350.3 L1007.9,350.3 L1008.6,350.4 L1009.3,350.4 L1010.0,350.4 L1010.6,350.4 L1011.3,350.5 L1012.0,350.5 L1012.7,350.5 L1013.4,350.5 L1014.1,350.5 L1014.8,350.5 L1015.5,350.5 L1016.2,350.5 L1016.9,350.5 L1017.5,350.4 L1018.2,350.4 L1018.9,350.4 L1019.6,350.4 L1020.3,350.3 L1021.0,350.3 L1021.7,350.3 L1022.4,350.2 L1023.1,350.1 L1023.8,350.0 L1024.4,349.9 L1025.1,349.8 L1025.8,349.7 L1026.5,349.5 L1027.2,349.4" fill="none" stroke="#2ca02c" stroke-width="7.1" stroke-linecap="round" stroke-linejoin="round"/>
<path d="M1236.4,353.6 L1237.2,353.2 L1238.1,352.8 L1238.9,352.4 L1239.7,352.1 L1240.6,351.7 L1241.4,351.4 L1242.2,351.0 L1243.0,350.7 L1243.9,350.4 L1244.7,350.2 L1245.5,350.0 L1246.4,349.8 L1247.2,349.6 L1248.0,349.4 L1248.9,349.3 L1249.7,349.2 L1250.5,349.2 L1251.4,349.1 L1252.2,349.1 L1253.0,349.2 L1253.8,349.2 L1254.7,349.3 L1255.5,349.4 L1256.3,349.5 L1257.2,349.7 L1258.0,349.9 L1258.8,350.1 L1259.7,350.3 L1260.5,350.5 L1261.3,350.7 L1262.2,351.0 L1263.0,351.2 L1263.8,351.5 L1264.6,351.8 L1265.5,352.0 L1266.3,352.3 L1267.1,352.6 L1268.0,352.9 L1268.8,353.2" fill="none" stroke="#1f77b4" stroke-width="6.2" stroke-linecap="round" stroke-linejoin="round"/>
<path d="M1275.2,353.2 L1276.0,352.8 L1276.8,352.3 L1277.6,351.9 L1278.4,351.5 L1279.2,351.1 L1280.0,350.7 L1280.8,350.3 L1281.6,350.0 L1282.4,349.6 L1283.2,349.3 L1284.0,348.9 L1284.8,348.6 L1285.6,348.4 L1286.4,348.1 L1287.2,347.9 L1288.0,347.6 L1288.8,347.4 L1289.6,347.2 L1290.4,347.1 L1291.2,346.9 L1292.0,346.8 L1292.8,346.7 L1293.6,346.6 L1294.4,346.5 L1295.2,346.5 L1296.0,346.4 L1296.8,346.4 L1297.6,346.4 L1298.4,346.4 L1299.2,346.4 L1300.0,346.4 L1300.8,346.4 L1301.6,346.5 L1302.4,346.5 L1303.2,346.6 L1304.0,346.6 L1304.8,346.7 L1305.6,346.7 L1306.4,346.8" fill="none" stroke="#ff7f0e" stroke-width="6.2" stroke-linecap="round" stroke-linejoin="round"/>
<path d="M1312.0,346.4 L1312.7,346.8 L1313.5,347.2 L1314.2,347.6 L1315.0,348.0 L1315.7,348.4 L1316.5,348.7 L1317.2,349.1 L1318.0,349.5 L1318.7,349.8 L1319.5,350.2 L1320.2,350.5 L1321.0,350.8 L1321.7,351.1 L1322.5,351.4 L1323.2,351.7 L1324.0,351.9 L1324.7,352.2 L1325.5,352.4 L1326.2,352.6 L1327.0,352.8 L1327.7,352.9 L1328.5,353.0 L1329.2,353.1 L1330.0,353.2 L1330.7,353.2 L1331.5,353.2 L1332.2,353.2 L1333.0,353.1 L1333.7,353.1 L1334.5,352.9 L1335.2,352.8 L1336.0,352.6 L1336.7,352.4 L1337.5,352.2 L1338.2,351.9 L1339.0,351.7 L1339.7,351.4 L1340.5,351.1 L1341.2,350.8" fill="none" stroke="#2ca02c" stroke-width="6.2" stroke-linecap="round" stroke-linejoin="round"/>
<path d="M1587.8,347.8 L1588.7,347.9 L1589.6,348.1 L1590.4,348.2 L1591.3,348.3 L1592.2,348.5 L1593.1,348.6 L1593.9,348.7 L1594.8,348.9 L1595.7,349.0 L1596.6,349.1 L1597.4,349.2 L1598.3,349.3 L1599.2,349.4 L1600.1,349.5 L1601.0,349.6 L1601.8,349.6 L1602.7,349.7 L1603.6,349.7 L1604.5,349.7 L1605.3,349.7 L1606.2,349.7 L1607.1,349.7 L1608.0,349.7 L1608.8,349.7 L1609.7,349.6 L1610.6,349.6 L1611.5,349.5 L1612.4,349.4 L1613.2,349.3 L1614.1,349.2 L1615.0,349.1 L1615.9,348.9 L1616.7,348.8 L1617.6,348.7 L1618.5,348.7 L1619.4,348.7 L1620.2,348.7 L1621.1,348.8 L1622.0,348.9" fill="none" stroke="#1f77b4" stroke-width="6.2" stroke-linecap="round" stroke-linejoin="round"/>
<path d="M1628.6,347.2 L1629.5,347.2 L1630.3,347.2 L1631.2,347.2 L1632.0,347.2 L1632.9,347.1 L1633.8,347.1 L1634.6,347.1 L1635.5,347.1 L1636.4,347.1 L1637.2,347.0 L1638.1,347.0 L1638.9,347.0 L1639.8,346.9 L1640.7,346.9 L1641.5,346.8 L1642.4,346.8 L1643.2,346.7 L1644.1,346.7 L1645.0,346.6 L1645.8,346.5 L1646.7,346.4 L1647.6,346.4 L1648.4,346.3 L1649.3,346.2 L1650.1,346.1 L1651.0,346.0 L1651.9,345.9 L1652.7,345.8 L1653.6,345.7 L1654.4,345.5 L1655.3,345.4 L1656.2,345.3 L1657.0,345.1 L1657.9,345.0 L1658.8,344.9 L1659.6,344.7 L1660.5,344.6 L1661.3,344.4 L1662.2,344.3" fill="none" stroke="#ff7f0e" stroke-width="6.2" stroke-linecap="round" stroke-linejoin="round"/>
<path d="M1668.3,367.0 L1669.2,368.2 L1670.0,369.3 L1670.9,370.3 L1671.7,371.2 L1672.6,372.0 L1673.4,372.5 L1674.3,372.9 L1675.2,373.2 L1676.0,373.3 L1676.9,373.3 L1677.7,373.3 L1678.6,373.2 L1679.4,373.0 L1680.3,372.7 L1681.1,372.4 L1682.0,371.9 L1682.9,371.4 L1683.7,370.8 L1684.6,370.0 L1685.4,369.2 L1686.3,368.2 L1687.1,367.1 L1688.0,365.9 L1688.9,364.7 L1689.7,363.3 L1690.6,361.9 L1691.4,360.4 L1692.3,358.8 L1693.1,357.1 L1694.0,355.4 L1694.8,353.6 L1695.7,351.7 L1696.6,349.8 L1697.4,347.7 L1698.3,345.5 L1699.1,343.3 L1700.0,341.0 L1700.8,338.7 L1701.7,336.3" fill="none" stroke="#2ca02c" stroke-width="6.2" stroke-linecap="round" stroke-linejoin="round"/>
<rect x="122.67" y="359" width="1654.83" height="1" fill="#000000" fill-opacity="0.5"/>
<line x1="198.60" y1="342.8" x2="1702.88" y2="353.0" stroke="#000" stroke-width="3.125" stroke-linecap="square"/>
<line x1="213.0" y1="663.1" x2="213.0" y2="56.0" stroke="#1f77b4" stroke-opacity="0.5" stroke-width="1.667" stroke-dasharray="1.667 2.75"/>
<line x1="243.0" y1="663.1" x2="243.0" y2="56.0" stroke="#ff7f0e" stroke-opacity="0.5" stroke-width="1.667" stroke-dasharray="1.667 2.75"/>
<line x1="272.0" y1="663.1" x2="272.0" y2="56.0" stroke="#2ca02c" stroke-opacity="0.5" stroke-width="1.667" stroke-dasharray="1.667 2.75"/>
<line x1="430.0" y1="663.1" x2="430.0" y2="56.0" stroke="#1f77b4" stroke-opacity="0.5" stroke-width="1.667" stroke-dasharray="1.667 2.75"/>
<line x1="461.0" y1="663.1" x2="461.0" y2="56.0" stroke="#ff7f0e" stroke-opacity="0.5" stroke-width="1.667" stroke-dasharray="1.667 2.75"/>
<line x1="492.0" y1="663.1" x2="492.0" y2="56.0" stroke="#2ca02c" stroke-opacity="0.5" stroke-width="1.667" stroke-dasharray="1.667 2.75"/>
<line x1="672.0" y1="663.1" x2="672.0" y2="56.0" stroke="#1f77b4" stroke-opacity="0.5" stroke-width="1.667" stroke-dasharray="1.667 2.75"/>
<line x1="705.0" y1="663.1" x2="705.0" y2="56.0" stroke="#ff7f0e" stroke-opacity="0.5" stroke-width="1.667" stroke-dasharray="1.667 2.75"/>
<line x1="737.0" y1="663.1" x2="737.0" y2="56.0" stroke="#2ca02c" stroke-opacity="0.5" stroke-width="1.667" stroke-dasharray="1.667 2.75"/>
<line x1="944.0" y1="663.1" x2="944.0" y2="56.0" stroke="#1f77b4" stroke-opacity="0.5" stroke-width="1.667" stroke-dasharray="1.667 2.75"/>
<text transform="translate(213.86,53) scale(0.96,1.1)" text-anchor="middle" font-size="14.583" fill="#1f77b4">7</text>
<text transform="translate(243.80,53) scale(0.96,1.1)" text-anchor="middle" font-size="14.583" fill="#ff7f0e">7</text>
<text transform="translate(271.90,53) scale(0.96,1.1)" text-anchor="middle" font-size="14.583" fill="#2ca02c">7</text>
<text transform="translate(429.70,53) scale(0.96,1.1)" text-anchor="middle" font-size="14.583" fill="#1f77b4">6</text>
<text transform="translate(461.86,53) scale(0.96,1.1)" text-anchor="middle" font-size="14.583" fill="#ff7f0e">6</text>
<text transform="translate(492.00,53) scale(0.96,1.1)" text-anchor="middle" font-size="14.583" fill="#2ca02c">6</text>
<text transform="translate(671.90,53) scale(0.96,1.1)" text-anchor="middle" font-size="14.583" fill="#1f77b4">5</text>
<text transform="translate(705.55,53) scale(0.96,1.1)" text-anchor="middle" font-size="14.583" fill="#ff7f0e">5</text>
<text transform="translate(737.57,53) scale(0.96,1.1)" text-anchor="middle" font-size="14.583" fill="#2ca02c">5</text>
<text transform="translate(944.40,53) scale(0.96,1.1)" text-anchor="middle" font-size="14.583" fill="#1f77b4">4</text>
<g fill="#2a2a2a">
<rect x="122" y="55" width="1657" height="2"/>
<rect x="122" y="662" width="1657" height="2"/>
<rect x="122" y="57" width="2" height="605"/>
<rect x="1777" y="57" width="2" height="605"/>
<rect x="352" y="664" width="2" height="6"/>
<rect x="621" y="664" width="2" height="6"/>
<rect x="890" y="664" width="2" height="6"/>
<rect x="1159" y="664" width="2" height="6"/>
<rect x="1428" y="664" width="2" height="6"/>
<rect x="1697" y="664" width="2" height="6"/>
<rect x="116" y="634" width="6" height="2"/>
<rect x="116" y="565" width="6" height="2"/>
<rect x="116" y="496" width="6" height="2"/>
<rect x="116" y="427" width="6" height="2"/>
<rect x="116" y="358" width="6" height="2"/>
<rect x="116" y="289" width="6" height="2"/>
<rect x="116" y="220" width="6" height="2"/>
<rect x="116" y="152" width="6" height="2"/>
<rect x="116" y="83" width="6" height="2"/>
</g>
<g font-size="20.833" fill="#000" letter-spacing="-0.25">
<text x="326.69" y="693">3000</text>
<text x="595.89" y="693">3200</text>
<text x="864.59" y="693">3400</text>
<text x="1133.71" y="693">3600</text>
<text x="1402.77" y="693">3800</text>
<text x="1672.60" y="693">4000</text>
<text x="52.14" y="643">−<tspan dx="-0.9">100</tspan></text>
<text x="64.85" y="574">−<tspan dx="-0.9">75</tspan></text>
<text x="64.85" y="505">−<tspan dx="-0.9">50</tspan></text>
<text x="64.78" y="436">−<tspan dx="-0.9">25</tspan></text>
<text x="96.01" y="367">0</text>
<text x="82.74" y="298">25</text>
<text x="82.71" y="229">50</text>
<text x="82.58" y="161">75</text>
<text x="68.66" y="92">100</text>
</g>
<g font-size="20.833" fill="#000">
<text x="951.08" y="721.6" text-anchor="middle">Wavelength [nm]</text>
<text transform="translate(37.5,360.85) rotate(-90)" text-anchor="middle" letter-spacing="0.045">dv (vipere - pipeline) [km/s]</text>
</g>
<text x="950.08" y="42.5" text-anchor="middle" font-size="25" fill="#000">Velocity correction (A)</text>
<rect x="1645" y="65" width="123" height="120" rx="3.75" ry="3.75" fill="#fff" fill-opacity="0.8" stroke="#cccccc" stroke-opacity="0.8" stroke-width="2"/>
<circle cx="1671.5" cy="81.5" r="5.3" fill="#1f77b4"/>
<circle cx="1671.5" cy="110.5" r="5.3" fill="#ff7f0e"/>
<circle cx="1671.5" cy="138.5" r="5.3" fill="#2ca02c"/>
<line x1="1652.6" y1="166.5" x2="1690.4" y2="166.5" stroke="#000" stroke-width="3.125" stroke-linecap="square"/>
<g font-size="18.75" fill="#000">
<text x="1704.75" y="88">CHIP1</text>
<text x="1704.75" y="116">CHIP2</text>
<text x="1704.75" y="145">CHIP3</text>
<text x="1704.75" y="173">fit</text>
</g>
</svg>
</body>
</html>
